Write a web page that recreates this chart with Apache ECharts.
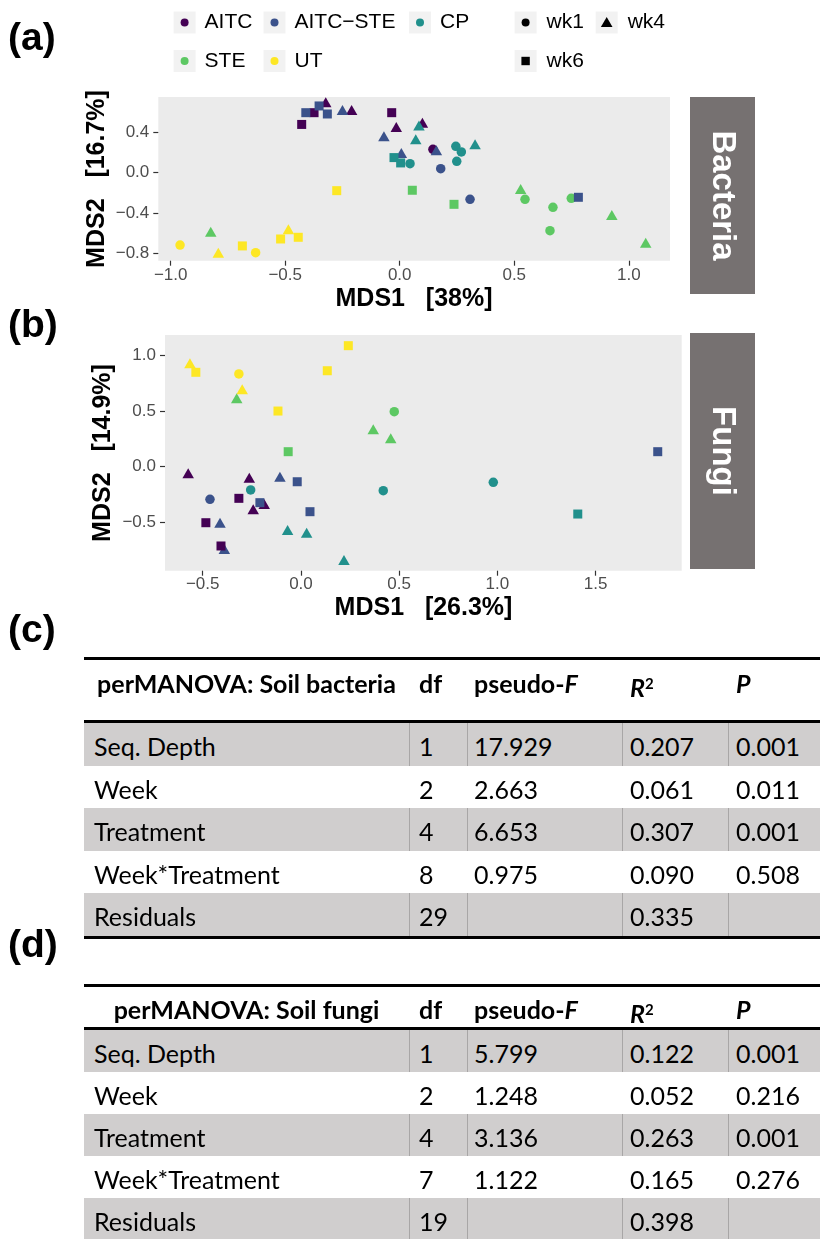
<!DOCTYPE html>
<html><head><meta charset="utf-8">
<script src="https://cdn.jsdelivr.net/npm/echarts@6/dist/echarts.min.js"></script>
<style>
html,body{margin:0;padding:0;background:#fff;}
#page{position:relative;width:820px;height:1239px;overflow:hidden;background:#fff;}
#chart{position:absolute;left:0;top:0;width:820px;height:1239px;}
.t{position:absolute;white-space:nowrap;font-family:Lato,'Open Sans',sans-serif;color:#000;font-size:25px;}
.b{font-weight:bold;}
</style></head>
<body><div id="page"><div id="chart"></div></div>
<script>
// ---------------- data ----------------
const treatments = ['AITC', 'AITC\u2212STE', 'CP', 'STE', 'UT'];
const weeks = ['wk1', 'wk4', 'wk6'];

// Bacteria NMDS: [MDS1, MDS2, week]
const bacAITC = [[-0.374,0.597,'wk6'],[-0.428,0.48,'wk6'],[-0.035,0.597,'wk6'],[-0.323,0.70,'wk4'],[-0.21,0.624,'wk4'],[-0.015,0.455,'wk4'],[0.099,0.497,'wk4'],[0.145,0.232,'wk1']];
const bacAITCSTE = [[-0.41,0.597,'wk6'],[-0.352,0.664,'wk6'],[-0.316,0.584,'wk6'],[0.78,-0.245,'wk6'],[-0.25,0.624,'wk4'],[-0.069,0.362,'wk4'],[0.007,0.196,'wk4'],[0.16,0.222,'wk4'],[0.179,0.04,'wk1'],[0.307,-0.265,'wk1']];
const bacCP = [[-0.025,0.15,'wk6'],[0.004,0.097,'wk6'],[0.084,0.47,'wk4'],[0.07,0.332,'wk4'],[0.329,0.282,'wk4'],[0.045,0.09,'wk1'],[0.245,0.262,'wk1'],[0.269,0.206,'wk1'],[0.249,0.113,'wk1']];
const bacSTE = [[0.055,-0.175,'wk6'],[0.237,-0.315,'wk6'],[-0.825,-0.587,'wk4'],[0.528,-0.162,'wk4'],[0.926,-0.421,'wk4'],[1.074,-0.697,'wk4'],[0.547,-0.265,'wk1'],[0.669,-0.345,'wk1'],[0.656,-0.577,'wk1'],[0.749,-0.255,'wk1']];
const bacUT = [[-0.275,-0.179,'wk6'],[-0.687,-0.729,'wk6'],[-0.52,-0.66,'wk6'],[-0.443,-0.643,'wk6'],[-0.792,-0.796,'wk4'],[-0.486,-0.564,'wk4'],[-0.959,-0.72,'wk1'],[-0.629,-0.796,'wk1']];

// Fungi NMDS
const funAITC = [[-0.574,-0.059,'wk4'],[-0.263,-0.099,'wk4'],[-0.243,-0.383,'wk4'],[-0.187,-0.335,'wk4'],[-0.484,-0.503,'wk6'],[-0.407,-0.712,'wk6'],[-0.316,-0.284,'wk6']];
const funAITCSTE = [[-0.463,-0.293,'wk1'],[-0.412,-0.503,'wk4'],[-0.39,-0.74,'wk4'],[-0.107,-0.09,'wk4'],[-0.209,-0.323,'wk6'],[-0.019,-0.135,'wk6'],[0.046,-0.404,'wk6'],[1.816,0.135,'wk6']];
const funCP = [[-0.256,-0.209,'wk1'],[0.419,-0.215,'wk1'],[0.979,-0.14,'wk1'],[-0.068,-0.569,'wk4'],[0.029,-0.593,'wk4'],[0.219,-0.838,'wk4'],[1.409,-0.425,'wk6']];
const funSTE = [[0.475,0.494,'wk1'],[-0.327,0.614,'wk4'],[0.368,0.336,'wk4'],[0.457,0.255,'wk4'],[-0.065,0.135,'wk6']];
const funUT = [[-0.316,0.833,'wk1'],[-0.565,0.929,'wk4'],[-0.299,0.695,'wk4'],[-0.535,0.848,'wk6'],[-0.117,0.5,'wk6'],[0.134,0.862,'wk6'],[0.241,1.087,'wk6']];

// tick labels
const bacXTicks = [-1.0, -0.5, 0.0, 0.5, 1.0];
const bacYTicks = [-0.8, -0.4, 0.0, 0.4];
const funXTicks = [-0.5, 0.0, 0.5, 1.0, 1.5];
const funYTicks = [-0.5, 0.0, 0.5, 1.0];

// axis titles / strips
const bacXTitle = 'MDS1   [38%]', bacYTitle = 'MDS2   [16.7%]';
const funXTitle = 'MDS1   [26.3%]', funYTitle = 'MDS2   [14.9%]';

// tables
const rowNames = ['Seq. Depth', 'Week', 'Treatment', 'Week*Treatment', 'Residuals'];
const bacDf = ['1', '2', '4', '8', '29'];
const bacF = ['17.929', '2.663', '6.653', '0.975', ''];
const bacR2 = ['0.207', '0.061', '0.307', '0.090', '0.335'];
const bacP = ['0.001', '0.011', '0.001', '0.508', ''];
const funDf = ['1', '2', '4', '7', '19'];
const funF = ['5.799', '1.248', '3.136', '1.122', ''];
const funR2 = ['0.122', '0.052', '0.263', '0.165', '0.398'];
const funP = ['0.001', '0.216', '0.001', '0.276', ''];

// ---------------- styles ----------------
const trtColors = ['#440154', '#3B528B', '#21908C', '#5DC863', '#FDE725'];
const weekSymbols = ['circle', 'triangle', 'rect'];
const weekSizes = [9.5, [11.5, 10], 9];
const FONT = '"Liberation Sans", Arial, Helvetica, sans-serif';
const fmt = v => (v < 0 ? '\u2212' : '') + Math.abs(v).toFixed(1);

function buildSeries(panel, gi) {
  const out = [];
  weeks.forEach((wk, wi) => {
    treatments.forEach((trt, ti) => {
      const pts = panel[ti].filter(p => p[2] === wk).map(p => [p[0], p[1]]);
      if (!pts.length) return;
      out.push({
        type: 'scatter', name: trt + ' ' + wk, xAxisIndex: gi, yAxisIndex: gi,
        data: pts, symbol: weekSymbols[wi], symbolSize: weekSizes[wi],
        itemStyle: { color: trtColors[ti], opacity: 1 }, silent: true,
        emphasis: { disabled: true }
      });
    });
  });
  return out;
}

function axisCommon(ticks, margin) {
  return {
    axisLine: { show: false, onZero: false }, splitLine: { show: false },
    axisTick: { show: true, length: 5, lineStyle: { color: '#333', width: 1.2 }, customValues: ticks },
    axisLabel: { customValues: ticks, formatter: fmt, color: '#4D4D4D', fontSize: 17, fontFamily: FONT, margin }
  };
}
function xAx(gi, min, max, ticks, margin) {
  return Object.assign({ gridIndex: gi, type: 'value', position: 'bottom', min, max }, axisCommon(ticks, margin));
}
function yAx(gi, min, max, ticks) {
  return Object.assign({ gridIndex: gi, type: 'value', position: 'left', min, max }, axisCommon(ticks, 9));
}

const graphic = [];
function txt(x, y, text, size, opts) {
  graphic.push(Object.assign({ type: 'text', x, y, silent: true,
    style: Object.assign({ text, fontSize: size, fontFamily: FONT, fill: '#000', align: 'left', verticalAlign: 'middle' }, (opts && opts.style) || {}) },
    opts && opts.rotation !== undefined ? { rotation: opts.rotation } : {}));
}
// panel letters
[['(a)', 39], ['(b)', 326], ['(c)', 631], ['(d)', 946]].forEach(([t, y]) =>
  txt(8, y, t, 39, { style: { fontWeight: 'bold' } }));

// legend (colour)
const colKeyX = [184.6, 274.5, 420], legRowY = [22.5, 61];
treatments.forEach((t, i) => {
  const cx = colKeyX[i % 3], cy = legRowY[Math.floor(i / 3)];
  graphic.push({ type: 'rect', silent: true, shape: { x: cx - 11, y: cy - 11, width: 22, height: 22 }, style: { fill: '#F2F2F2' } });
  graphic.push({ type: 'circle', silent: true, shape: { cx, cy, r: 4 }, style: { fill: trtColors[i] } });
  txt(cx + 20, cy, t, 21);
});
// legend (shape)
const shpKeyX = [525.6, 606.7];
weeks.forEach((w, i) => {
  const cx = shpKeyX[i % 2], cy = legRowY[Math.floor(i / 2)];
  graphic.push({ type: 'rect', silent: true, shape: { x: cx - 11, y: cy - 11, width: 22, height: 22 }, style: { fill: '#F2F2F2' } });
  if (weekSymbols[i] === 'circle') graphic.push({ type: 'circle', silent: true, shape: { cx, cy, r: 4 }, style: { fill: '#000' } });
  else if (weekSymbols[i] === 'triangle') graphic.push({ type: 'polygon', silent: true, shape: { points: [[cx, cy - 5.5], [cx + 5.8, cy + 4.5], [cx - 5.8, cy + 4.5]] }, style: { fill: '#000' } });
  else graphic.push({ type: 'rect', silent: true, shape: { x: cx - 4.2, y: cy - 4.2, width: 8.4, height: 8.4 }, style: { fill: '#000' } });
  txt(cx + 21, cy, w, 21);
});

// strips
[[97, 197, 'Bacteria'], [333, 236, 'Fungi']].forEach(([y, h, t]) => {
  graphic.push({ type: 'rect', silent: true, shape: { x: 690, y, width: 65, height: h }, style: { fill: '#767171' } });
  txt(722.5, y + h / 2, t, 33, { rotation: -Math.PI / 2, style: { fill: '#FFFFFF', fontWeight: 'bold', align: 'center' } });
});
// axis titles
txt(414, 299, bacXTitle, 25, { style: { fontWeight: 'bold', align: 'center' } });
txt(97, 179, bacYTitle, 25, { rotation: Math.PI / 2, style: { fontWeight: 'bold', align: 'center' } });
txt(423.5, 608, funXTitle, 25, { style: { fontWeight: 'bold', align: 'center' } });
txt(103, 453, funYTitle, 25, { rotation: Math.PI / 2, style: { fontWeight: 'bold', align: 'center' } });

const chart = echarts.init(document.getElementById('chart'), null, { renderer: 'canvas' });
chart.setOption({
  animation: false,
  backgroundColor: '#fff',
  grid: [
    { left: 158.3, top: 97, width: 511.7, height: 163.7, show: true, backgroundColor: '#EBEBEB', borderWidth: 0 },
    { left: 165, top: 335, width: 516.7, height: 235.7, show: true, backgroundColor: '#EBEBEB', borderWidth: 0 }
  ],
  xAxis: [xAx(0, -1.054, 1.18, bacXTicks, 6), xAx(1, -0.692, 1.938, funXTicks, 5)],
  yAxis: [yAx(0, -0.876, 0.753, bacYTicks), yAx(1, -0.934, 1.183, funYTicks)],
  series: buildSeries([bacAITC, bacAITCSTE, bacCP, bacSTE, bacUT], 0)
    .concat(buildSeries([funAITC, funAITCSTE, funCP, funSTE, funUT], 1)),
  graphic
});

// ---------------- tables (HTML) ----------------
const page = document.getElementById('page');
function add(css, html, cls) {
  const d = document.createElement('div');
  d.style.cssText = 'position:absolute;' + css;
  if (cls) d.className = cls;
  if (html !== undefined) d.innerHTML = html;
  page.appendChild(d);
  return d;
}
const L = 84, R = 820;
const colB = [84, 409, 467, 622, 728, 820];
const textX = [94, 419, 474, 630, 736];
function makeTable(cfg) {
  const headers = [cfg.title, 'df', 'pseudo-<i>F</i>', '<i>R</i><sup style="font-size:0.6em;vertical-align:0.55em;font-style:normal">2</sup>', '<i>P</i>'];
  add(`left:${L}px;top:${cfg.top}px;width:${R - L}px;height:3px;background:#000;`);
  headers.forEach((h, c) => {
    if (c === 0) add(`left:${colB[0]}px;width:${colB[1] - colB[0]}px;text-align:center;top:${cfg.headY - 20}px;line-height:40px;`, h, 't b');
    else add(`left:${textX[c]}px;top:${cfg.headY - 20}px;line-height:40px;`, h, 't b');
  });
  add(`left:${L}px;top:${cfg.sepY}px;width:${R - L}px;height:3px;background:#000;`);
  const cols = [rowNames, cfg.df, cfg.F, cfg.R2, cfg.P];
  let y = cfg.sepY + 3;
  for (let r = 0; r < rowNames.length; r++) {
    const h = cfg.rowH;
    if (r % 2 === 0) {
      add(`left:${L}px;top:${y}px;width:${R - L}px;height:${h}px;background:#D0CECE;`);
      for (let c = 1; c < 5; c++) add(`left:${colB[c]}px;top:${y}px;width:1px;height:${h}px;background:#A8A6A6;`);
    }
    for (let c = 0; c < 5; c++) add(`left:${textX[c]}px;top:${y + 2}px;line-height:${h}px;`, cols[c][r], 't');
    y += h;
  }
  if (cfg.bottom) add(`left:${L}px;top:${y}px;width:${R - L}px;height:3px;background:#000;`);
}
makeTable({ title: 'perMANOVA: Soil bacteria', top: 657, headY: 683, sepY: 720, rowH: 42.6, df: bacDf, F: bacF, R2: bacR2, P: bacP, bottom: true });
makeTable({ title: 'perMANOVA: Soil fungi', top: 984, headY: 1009, sepY: 1027, rowH: 42, df: funDf, F: funF, R2: funR2, P: funP, bottom: false });
</script>
</body></html>
